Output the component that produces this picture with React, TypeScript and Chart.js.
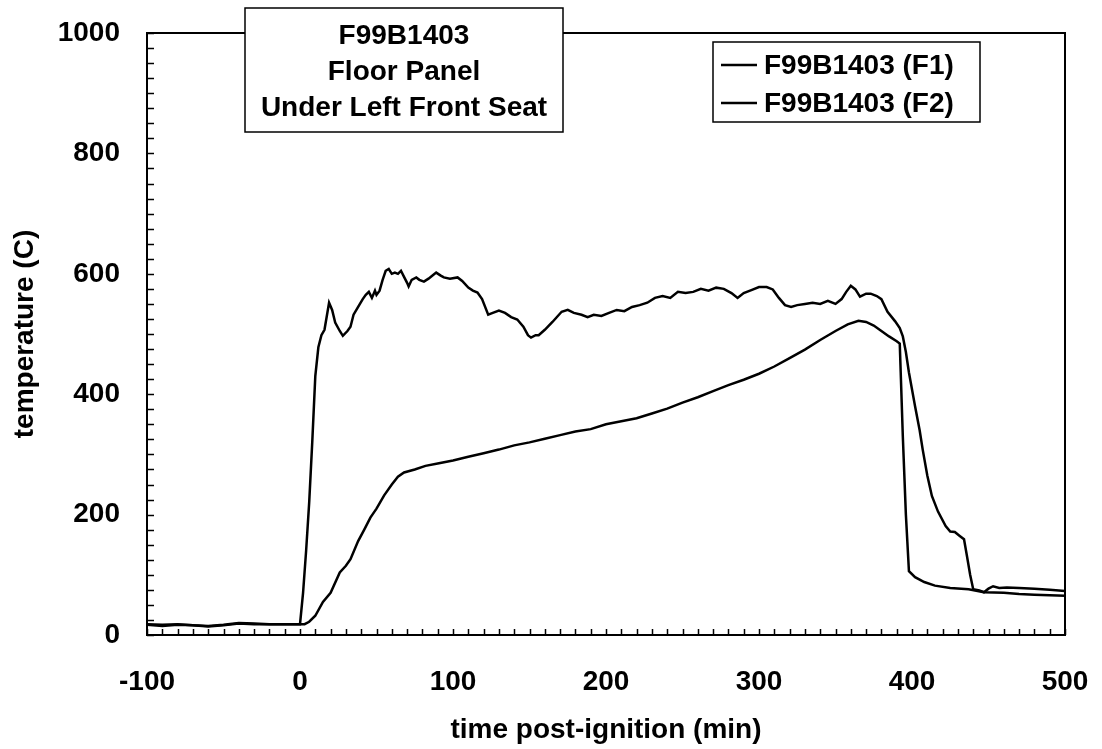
import React, { useEffect, useRef } from 'react';
import { Chart, registerables } from 'chart.js';

Chart.register(...registerables);

const titleLines = ['F99B1403', 'Floor Panel', 'Under Left Front Seat'];
const seriesLabels = ['F99B1403 (F1)', 'F99B1403 (F2)'];
const xAxisTitle = 'time post-ignition (min)';
const yAxisTitle = 'temperature (C)';
const xTicks = [-100, 0, 100, 200, 300, 400, 500];
const yTicks = [0, 200, 400, 600, 800, 1000];

const f1Time = [
  -100, -90, -80, -70, -60, -50, -40, -30, -20, -10, 0, 2, 4, 6, 8, 10, 12, 14, 16, 19, 21, 23, 26, 28, 31, 33,
  35, 38, 41, 43, 45, 47, 49, 50, 52, 54, 56, 58, 60, 62, 64, 66, 68, 70, 71, 73, 76, 78, 81, 84, 87, 89, 92,
  94, 98, 103, 106, 110, 113, 116, 119, 123, 126, 130, 134, 138, 142, 146, 149, 151, 154, 156, 160, 165, 171,
  175, 179, 184, 188, 192, 197, 202, 207, 212, 217, 222, 227, 232, 237, 242, 247, 252, 257, 262, 267, 272,
  277, 282, 286, 290, 295, 300, 305, 309, 313, 317, 321, 325, 330, 335, 340, 345, 350, 354, 357, 360, 363,
  366, 370, 373, 377, 380, 384, 389, 392, 394, 396, 398, 402, 405, 407, 410, 413, 417, 422, 425, 428, 431,
  434, 436, 438, 440, 444, 447, 450, 453, 457, 462, 470, 480, 490, 500,
];
const f1Temp = [
  18, 17, 18, 16, 15, 17, 20, 19, 18, 18, 18, 70, 140, 220, 320, 430, 478, 498, 507, 552, 540, 519, 505, 497,
  505, 512, 532, 545, 558, 565, 570, 560, 572, 565, 572, 590, 605, 608, 600, 602, 600, 605, 595, 585, 579,
  590, 594, 590, 587, 592, 598, 602, 597, 594, 592, 594, 588, 577, 572, 569, 558, 532, 535, 539, 535, 528,
  524, 512, 498, 494, 498, 498, 507, 520, 537, 540, 535, 532, 528, 532, 530, 535, 540, 538, 545, 548, 552,
  560, 563, 560, 570, 568, 570, 575, 572, 577, 575, 568, 560, 568, 573, 578, 578, 574, 560, 548, 545, 548,
  550, 552, 550, 555, 550, 558, 570, 580, 574, 562, 567, 567, 563, 558, 537, 521, 510, 496, 470, 436, 380,
  340, 308, 265, 231, 205, 181, 172, 171, 165, 159, 130, 100, 76, 74, 71, 77, 81, 78, 79, 78, 77, 75, 73,
];

const f2Time = [
  -100, -90, -80, -70, -60, -50, -40, -30, -20, -10, 0, 3, 6, 10, 15, 20, 26, 30, 33, 38, 42, 46, 50, 55, 60,
  64, 68, 75, 82, 90, 100, 110, 120, 130, 140, 150, 160, 170, 180, 190, 200, 210, 220, 230, 240, 250, 260,
  270, 280, 290, 300, 310, 320, 330, 340, 350, 358, 365, 370, 375, 380, 385, 390, 392, 394, 396, 398, 402,
  408, 415, 425, 437, 447, 460, 470, 480, 490, 500,
];
const f2Temp = [
  17, 15, 17, 16, 14, 16, 19, 18, 18, 18, 18, 18, 22, 32, 55, 70, 104, 115, 126, 156, 175, 195, 210, 232, 250,
  263, 270, 275, 281, 285, 290, 296, 302, 308, 315, 320, 326, 332, 338, 342, 350, 355, 360, 368, 376, 386,
  395, 405, 415, 424, 434, 446, 460, 474, 490, 505, 516, 522, 520, 514, 505, 496, 488, 484, 330, 200, 106,
  96, 88, 82, 78, 76, 71, 70, 68, 67, 66, 65,
];

const FONT_FAMILY = "'Liberation Sans', Arial, Helvetica, sans-serif";
const BIG = { family: FONT_FAMILY, size: 28, weight: 'bold' as const };

const zeroPad = (s: any) => {
  s.paddingLeft = 0;
  s.paddingRight = 0;
  s.paddingTop = 0;
  s.paddingBottom = 0;
};

const decorPlugin = {
  id: 'decor',
  beforeDatasetsDraw(chart: any) {
    const { ctx, chartArea, scales } = chart;
    const xs = scales.x;
    const ys = scales.y;
    ctx.save();
    ctx.strokeStyle = '#000';
    ctx.lineWidth = 1.5;
    ctx.beginPath();
    for (let v = xs.min; v <= xs.max; v += 10) {
      const px = Math.round(xs.getPixelForValue(v)) + 0.5;
      ctx.moveTo(px, chartArea.bottom);
      ctx.lineTo(px, chartArea.bottom - 6);
    }
    for (let v = ys.min; v <= ys.max; v += 25) {
      const py = Math.round(ys.getPixelForValue(v)) + 0.5;
      ctx.moveTo(chartArea.left, py);
      ctx.lineTo(chartArea.left + 7, py);
    }
    ctx.stroke();
    ctx.lineWidth = 2;
    ctx.strokeRect(chartArea.left, chartArea.top, chartArea.right - chartArea.left, chartArea.bottom - chartArea.top);
    ctx.restore();
  },
  afterDraw(chart: any) {
    const { ctx } = chart;
    ctx.save();
    // title box
    const bx = 245, by = 8, bw = 318, bh = 124;
    ctx.fillStyle = '#fff';
    ctx.fillRect(bx, by, bw, bh);
    ctx.strokeStyle = '#000';
    ctx.lineWidth = 1.5;
    ctx.strokeRect(bx, by, bw, bh);
    ctx.fillStyle = '#000';
    ctx.font = `bold 28px ${FONT_FAMILY}`;
    ctx.textAlign = 'center';
    ctx.textBaseline = 'middle';
    const lineYs = [36, 72, 108];
    titleLines.forEach((t, i) => ctx.fillText(t, bx + bw / 2, lineYs[i]));

    // legend box
    const lx = 713, ly = 42, lw = 267, lh = 80;
    ctx.fillStyle = '#fff';
    ctx.fillRect(lx, ly, lw, lh);
    ctx.strokeRect(lx, ly, lw, lh);
    ctx.textAlign = 'left';
    const itemYs = [65, 103];
    chart.data.datasets.forEach((ds: any, i: number) => {
      ctx.strokeStyle = ds.borderColor;
      ctx.lineWidth = ds.borderWidth;
      ctx.beginPath();
      ctx.moveTo(721, itemYs[i]);
      ctx.lineTo(757, itemYs[i]);
      ctx.stroke();
      ctx.fillStyle = '#000';
      ctx.fillText(ds.label, 764, itemYs[i] + 1);
    });
    ctx.restore();
  },
};

export default function App() {
  const ref = useRef<HTMLCanvasElement | null>(null);

  useEffect(() => {
    if (!ref.current) return;
    const mk = (t: number[], v: number[]) => t.map((x, i) => ({ x, y: v[i] }));
    const chart = new Chart(ref.current, {
      type: 'scatter',
      data: {
        datasets: [
          {
            label: seriesLabels[0],
            data: mk(f1Time, f1Temp),
            showLine: true,
            borderColor: '#000',
            borderWidth: 2.5,
            pointRadius: 0,
            tension: 0,
            fill: false,
          },
          {
            label: seriesLabels[1],
            data: mk(f2Time, f2Temp),
            showLine: true,
            borderColor: '#000',
            borderWidth: 2.5,
            pointRadius: 0,
            tension: 0,
            fill: false,
          },
        ],
      },
      options: {
        animation: false,
        responsive: false,
        maintainAspectRatio: false,
        layout: { padding: { left: 0, top: 33, right: 37, bottom: 0 } },
        plugins: {
          legend: { display: false },
          tooltip: { enabled: false },
        },
        scales: {
          x: {
            type: 'linear',
            min: -100,
            max: 500,
            afterBuildTicks: (s: any) => {
              s.ticks = xTicks.map((v) => ({ value: v }));
            },
            afterFit: (s: any) => {
              s.height = 114;
              zeroPad(s);
            },
            ticks: {
              font: BIG,
              color: '#000',
              padding: 30,
              maxRotation: 0,
              autoSkip: false,
              callback: (v: any) => String(v),
            },
            grid: { display: false, drawTicks: false },
            border: { display: true, color: '#000', width: 2 },
            title: {
              display: true,
              text: xAxisTitle,
              font: BIG,
              color: '#000',
              padding: { top: 0, bottom: 2 },
            },
          },
          y: {
            type: 'linear',
            min: 0,
            max: 1000,
            afterBuildTicks: (s: any) => {
              s.ticks = yTicks.map((v) => ({ value: v }));
            },
            afterFit: (s: any) => {
              s.width = 147;
              zeroPad(s);
            },
            ticks: {
              font: BIG,
              color: '#000',
              padding: 27,
              autoSkip: false,
              callback: (v: any) => String(v),
            },
            grid: { display: false, drawTicks: false },
            border: { display: true, color: '#000', width: 2 },
            title: {
              display: true,
              text: yAxisTitle,
              font: BIG,
              color: '#000',
              padding: { top: 8, bottom: 0 },
            },
          },
        },
      },
      plugins: [decorPlugin],
    });
    return () => chart.destroy();
  }, []);

  return (
    <div style={{ position: 'fixed', left: 0, top: 0, width: 1102, height: 749, background: '#fff' }}>
      <canvas ref={ref} width={1102} height={749} style={{ display: 'block' }} />
    </div>
  );
}
